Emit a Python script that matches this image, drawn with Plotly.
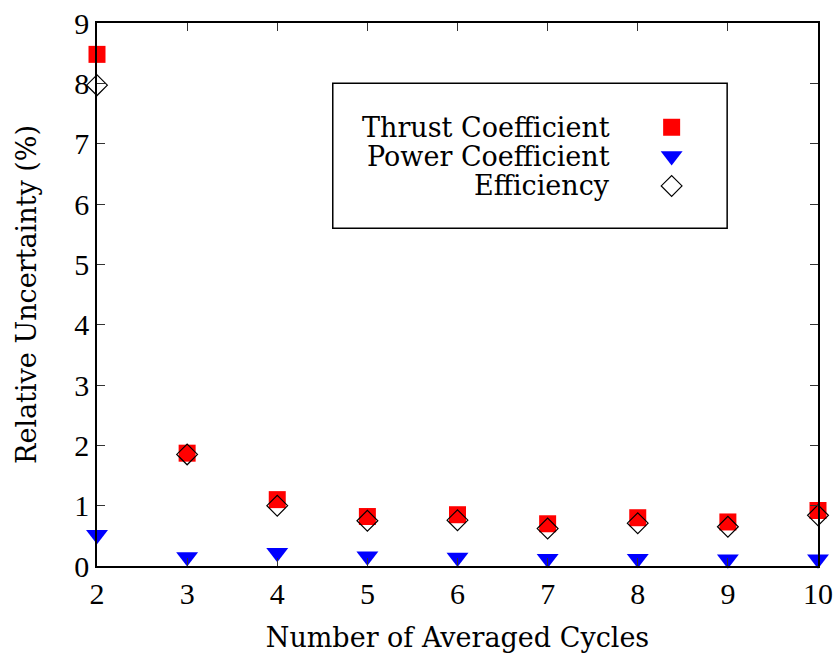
import plotly.graph_objects as go

cycles = [2, 3, 4, 5, 6, 7, 8, 9, 10]
thrust = [8.48, 1.87, 1.10, 0.82, 0.85, 0.70, 0.80, 0.73, 0.92]
power = [0.52, 0.15, 0.22, 0.16, 0.14, 0.12, 0.12, 0.11, 0.11]
efficiency = [7.97, 1.85, 1.00, 0.75, 0.76, 0.62, 0.71, 0.65, 0.84]

series_names = ["Thrust Coefficient", "Power Coefficient", "Efficiency"]
x_ticks = list(range(2, 11))
y_ticks = list(range(0, 10))

FONT = "DejaVu Serif"
FS = 27
TICK_FONT = "Liberation Serif"
TFS = 30

marker_styles = [
    dict(symbol="square", size=17, color="#ff0000", line=dict(width=0)),
    dict(symbol="triangle-down", size=19, color="#0000ff", line=dict(width=0)),
    dict(symbol="diamond-open", size=16, color="black", line=dict(width=1.2, color="black")),
]

fig = go.Figure()
for name, vals, ms in zip(series_names, [thrust, power, efficiency], marker_styles):
    fig.add_trace(go.Scatter(x=cycles, y=vals, mode="markers", name=name,
                             marker=ms, cliponaxis=False, showlegend=False))

# legend keys drawn on an overlay axis spanning the plot area
leg_x = 0.797
leg_y = [0.808, 0.755, 0.700]
for yy, ms in zip(leg_y, marker_styles):
    fig.add_trace(go.Scatter(x=[leg_x], y=[yy], mode="markers", marker=ms,
                             xaxis="x2", yaxis="y2", showlegend=False, hoverinfo="skip",
                             cliponaxis=False))

axis_common = dict(showgrid=False, zeroline=False, showline=True, linecolor="black",
                   linewidth=1.5, mirror="allticks", ticks="inside", ticklen=8,
                   tickwidth=1.2, tickcolor="#333", automargin=False,
                   ticklabeloverflow="allow",
                   tickfont=dict(family=TICK_FONT, size=TFS, color="black"))

fig.update_layout(
    width=835, height=653,
    margin=dict(l=97, r=17, t=23, b=87),
    plot_bgcolor="white", paper_bgcolor="white",
    font=dict(family=FONT, size=FS, color="black"),
    xaxis=dict(range=[2, 10], tickvals=x_ticks, ticktext=[str(v) for v in x_ticks],
               title=dict(text="Number of Averaged Cycles", font=dict(family=FONT, size=FS), standoff=22),
               **axis_common),
    yaxis=dict(range=[0, 9], tickvals=y_ticks, ticktext=[str(v) for v in y_ticks],
               title=dict(text="Relative Uncertainty (%)", font=dict(family=FONT, size=FS), standoff=30),
               **axis_common),
    xaxis2=dict(overlaying="x", range=[0, 1], visible=False, fixedrange=True),
    yaxis2=dict(overlaying="y", range=[0, 1], visible=False, fixedrange=True),
    showlegend=False,
)

# legend box
fig.add_shape(type="rect", xref="paper", yref="paper", x0=0.327, x1=0.874, y0=0.622, y1=0.889,
              line=dict(color="black", width=1.5), fillcolor="white", layer="below")

for name, yy in zip(series_names, leg_y):
    fig.add_annotation(text=name, xref="paper", yref="paper", x=0.714, y=yy,
                       xanchor="right", yanchor="middle", showarrow=False,
                       font=dict(family=FONT, size=FS, color="black"))

fig.write_html("out.html", config={"displayModeBar": False},
               post_script="document.body.style.margin='0';document.body.style.overflow='hidden';")
